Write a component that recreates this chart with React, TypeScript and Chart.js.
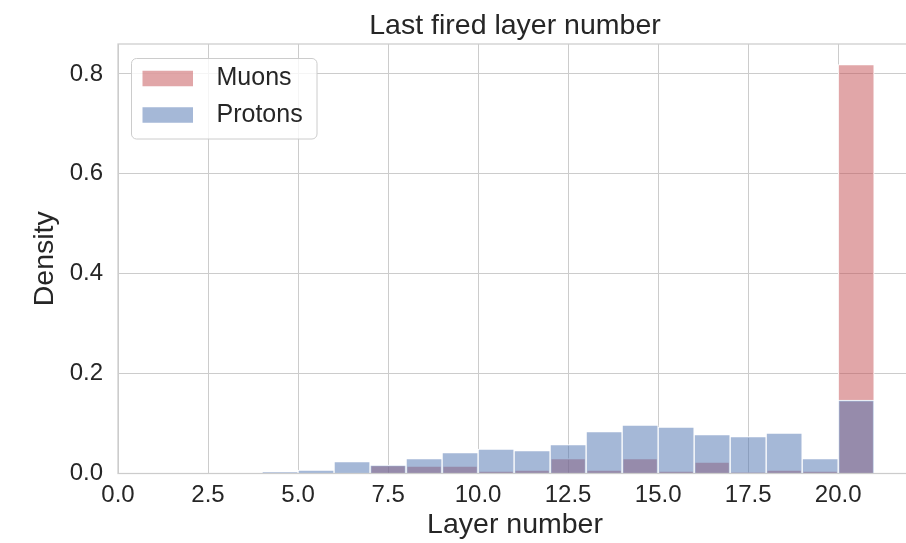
import React, { useEffect, useRef } from 'react';
import { Chart, registerables } from 'chart.js';

Chart.register(...registerables);

// Histogram bins: [k, k+1] for k = 0..20, represented by their centres
const binCenters = [0.5, 1.5, 2.5, 3.5, 4.5, 5.5, 6.5, 7.5, 8.5, 9.5, 10.5, 11.5, 12.5, 13.5, 14.5, 15.5, 16.5, 17.5, 18.5, 19.5, 20.5];
const muonDensity = [0, 0, 0, 0, 0, 0, 0, 0.017, 0.015, 0.015, 0.005, 0.007, 0.030, 0.007, 0.030, 0.005, 0.023, 0.002, 0.007, 0.005, 0.819];
const protonDensity = [0, 0, 0, 0, 0.003, 0.007, 0.024, 0.017, 0.030, 0.042, 0.049, 0.046, 0.058, 0.084, 0.097, 0.093, 0.078, 0.074, 0.081, 0.030, 0.147];
const xTickValues = [0, 2.5, 5, 7.5, 10, 12.5, 15, 17.5, 20];
const yTickValues = [0, 0.2, 0.4, 0.6, 0.8];
const seriesNames = ['Muons', 'Protons'];
const chartTitle = 'Last fired layer number';
const xAxisTitle = 'Layer number';
const yAxisTitle = 'Density';

const FONT = "'Liberation Sans', Arial, Helvetica, sans-serif";
const TEXT = '#262626';
const GRID = '#cccccc';
const MUON_COLOR = 'rgba(196, 78, 82, 0.5)';
const PROTON_COLOR = 'rgba(76, 114, 176, 0.5)';

const decorPlugin = {
  id: 'decor',
  afterDatasetsDraw(chart: any) {
    const { ctx, chartArea: ca } = chart;
    ctx.save();
    ctx.strokeStyle = GRID;
    ctx.lineWidth = 1.25;
    ctx.strokeRect(ca.left, ca.top, ca.right - ca.left, ca.bottom - ca.top);
    ctx.restore();
  },
  afterDraw(chart: any) {
    const { ctx, chartArea: ca } = chart;
    ctx.save();
    // Title centred over the plot area
    ctx.fillStyle = TEXT;
    ctx.font = `28.5px ${FONT}`;
    ctx.textAlign = 'center';
    ctx.textBaseline = 'alphabetic';
    ctx.fillText(chartTitle, (ca.left + ca.right) / 2, 33.5);

    // Legend (upper left, inside the axes)
    const bx = ca.left + 13.5;
    const by = ca.top + 14.5;
    const bw = 185.5;
    const bh = 80.5;
    ctx.beginPath();
    ctx.roundRect(bx, by, bw, bh, 5);
    ctx.fillStyle = 'rgba(255,255,255,0.8)';
    ctx.fill();
    ctx.strokeStyle = GRID;
    ctx.lineWidth = 1;
    ctx.stroke();

    const datasets = chart.data.datasets;
    const rows = [by + 20, by + 56.5];
    datasets.forEach((ds: any, i: number) => {
      const cy = rows[i];
      ctx.fillStyle = ds.backgroundColor;
      ctx.fillRect(bx + 11, cy - 7.75, 50.5, 15.5);
      ctx.fillStyle = TEXT;
      ctx.font = `25px ${FONT}`;
      ctx.textAlign = 'left';
      ctx.textBaseline = 'middle';
      ctx.fillText(ds.label, bx + 85, cy);
    });
    ctx.restore();
  },
};

export default function App() {
  const canvasRef = useRef<HTMLCanvasElement | null>(null);

  useEffect(() => {
    if (!canvasRef.current) return;
    const chart = new Chart(canvasRef.current, {
      type: 'bar',
      data: {
        datasets: [
          {
            label: seriesNames[0],
            data: binCenters.map((x, i) => ({ x, y: muonDensity[i] })),
            backgroundColor: MUON_COLOR,
            borderColor: '#ffffff',
            borderWidth: 1,
            order: 2,
          },
          {
            label: seriesNames[1],
            data: binCenters.map((x, i) => ({ x, y: protonDensity[i] })),
            backgroundColor: PROTON_COLOR,
            borderColor: '#ffffff',
            borderWidth: 1,
            order: 1,
          },
        ],
      },
      options: {
        animation: false,
        responsive: false,
        devicePixelRatio: 1,
        layout: { padding: { top: 44, right: 4, left: 0, bottom: 0 } },
        datasets: {
          bar: {
            grouped: false,
            barPercentage: 1,
            categoryPercentage: 1,
          },
        },
        plugins: {
          legend: { display: false },
          title: { display: false },
          tooltip: { enabled: false },
        },
        scales: {
          x: {
            type: 'linear',
            min: 0,
            max: 22.05,
            offset: false,
            grid: { color: GRID, lineWidth: 1, drawTicks: false, offset: false },
            border: { display: false },
            afterBuildTicks: (scale: any) => {
              scale.ticks = xTickValues.map((v) => ({ value: v }));
            },
            afterFit: (scale: any) => {
              scale.height = 69.5;
            },
            ticks: {
              color: TEXT,
              font: { family: FONT, size: 24 },
              padding: 7,
              maxRotation: 0,
              autoSkip: false,
              callback: (v: any) => Number(v).toFixed(1),
            },
            title: {
              display: true,
              text: xAxisTitle,
              color: TEXT,
              font: { family: FONT, size: 28.5 },
              padding: { top: 0, bottom: 0.8 },
            },
          },
          y: {
            type: 'linear',
            min: 0,
            max: 0.86,
            grid: { color: GRID, lineWidth: 1, drawTicks: false },
            border: { display: false },
            afterBuildTicks: (scale: any) => {
              scale.ticks = yTickValues.map((v) => ({ value: v }));
            },
            afterFit: (scale: any) => {
              scale.width = 118;
            },
            ticks: {
              color: TEXT,
              font: { family: FONT, size: 24 },
              padding: 15,
              callback: (v: any) => Number(v).toFixed(1),
            },
            title: {
              display: true,
              text: yAxisTitle,
              color: TEXT,
              font: { family: FONT, size: 28.5 },
              padding: { top: 28.4, bottom: 0 },
            },
          },
        },
      } as any,
      plugins: [decorPlugin],
    });
    return () => chart.destroy();
  }, []);

  return (
    <div
      style={{
        position: 'fixed',
        left: 0,
        top: 0,
        width: 906,
        height: 543,
        overflow: 'hidden',
        background: '#ffffff',
      }}
    >
      <canvas ref={canvasRef} width={916} height={543} style={{ display: 'block' }} />
    </div>
  );
}
